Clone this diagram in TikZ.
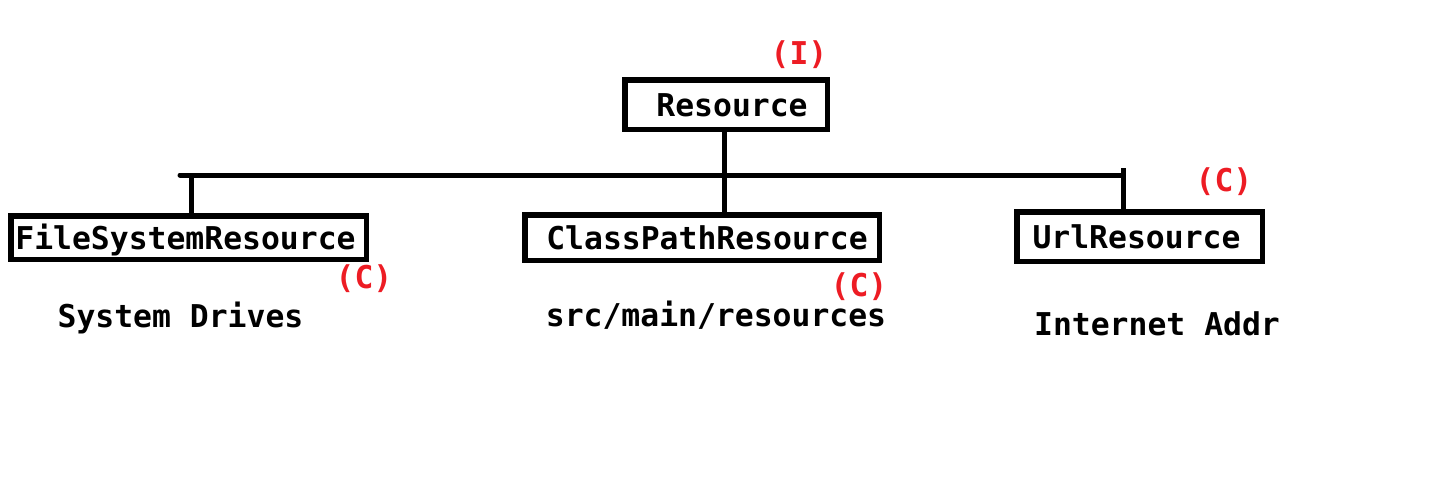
\documentclass[tikz,border=0pt]{standalone}
\usepackage{fontspec}
\setmainfont{DejaVu Sans Mono}
\definecolor{paintred}{HTML}{ED1C24}
\begin{document}
\begin{tikzpicture}[x=1pt,y=-1pt,
  every node/.style={font=\fontsize{31.4}{31.4}\selectfont\bfseries},
  cls/.style={draw=black, line width=5.5pt, rectangle, inner sep=0pt,
    text height=23pt, text depth=0pt, fill=white},
  plain/.style={inner sep=0pt, anchor=base},
  tag/.style={inner sep=0pt, anchor=base, text=paintred},
  wire/.style={line width=5pt, line cap=round}]
\useasboundingbox (0,0) rectangle (1446,490);
% class boxes
\node[cls, minimum width=202.5pt, minimum height=49.5pt] (res) at (726,104.5) {\hspace*{12pt}Resource};
\node[cls, minimum width=355.5pt, minimum height=43.5pt] (fs) at (188.5,237.5) {FileSystemResource\hspace*{6pt}};
\node[cls, minimum width=354.5pt, minimum height=45.5pt] (cp) at (702,237.5) {\hspace*{10pt}ClassPathResource};
\node[cls, minimum width=245.5pt, minimum height=49.5pt] (url) at (1139.5,236.5) {UrlResource\hspace*{6pt}};
% bus coordinates
\coordinate (busL) at (180,175);
\coordinate (busR) at (1123,175);
\coordinate (resX) at (724,175);
\coordinate (fsTop) at (191,175);
\coordinate (urlTop) at (1123,168);
% connectors
\draw[wire] (busL) -- (busR);
\draw[wire, line cap=butt] (res.south -| resX) -- (resX |- cp.north);
\draw[wire, line cap=butt] (fsTop) -- (fsTop |- fs.north);
\draw[wire, line cap=butt] (urlTop) -- (urlTop |- url.north);
% descriptions
\node[plain] (fsd) at (180.5,327) {System Drives};
\node[plain] (cpd) at (716,326) {src/main/resources};
\node[plain] (urld) at (1157,335) {Internet Addr};
% tags
\node[tag] (tres) at (799,64) {(I)};
\node[tag] (tfs) at (364,288) {(C)};
\node[tag] (tcp) at (859,296) {(C)};
\node[tag] (turl) at (1224,191) {(C)};
\end{tikzpicture}
\end{document}
